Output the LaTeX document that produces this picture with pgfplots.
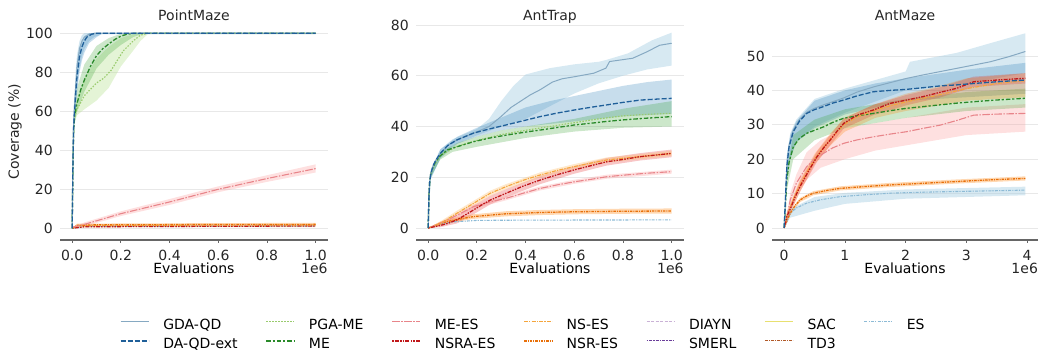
\documentclass[border=0pt]{standalone}
\usepackage{fontspec}
\setmainfont{DejaVu Sans}
\usepackage{pgfplots}
\pgfplotsset{compat=1.18}
\definecolor{c1}{HTML}{A6CEE3}
\definecolor{c2}{HTML}{1F78B4}
\definecolor{c3}{HTML}{B2DF8A}
\definecolor{c4}{HTML}{33A02C}
\definecolor{c5}{HTML}{FB9A99}
\definecolor{c6}{HTML}{E31A1C}
\definecolor{c7}{HTML}{FDBF6F}
\definecolor{c8}{HTML}{FF7F00}
\definecolor{c9}{HTML}{CAB2D6}
\definecolor{c10}{HTML}{6A3D9A}
\definecolor{c11}{HTML}{FFFF99}
\definecolor{c12}{HTML}{B15928}
\definecolor{gdaL}{HTML}{86A9C2}
\definecolor{daL}{HTML}{1F5F99}
\definecolor{pgaL}{HTML}{9ACB6E}
\definecolor{meL}{HTML}{2A8A2A}
\definecolor{meesL}{HTML}{E8858A}
\definecolor{nsraL}{HTML}{C0181A}
\definecolor{nsL}{HTML}{F5A53C}
\definecolor{nsrL}{HTML}{E8700A}
\definecolor{esL}{HTML}{8DBBD6}
\definecolor{sacL}{HTML}{E8E070}
\tikzset{
 lGDA/.style={color=gdaL, line width=1bp, solid},
 lDA/.style={color=daL, line width=1.3bp, dash pattern=on 5bp off 2bp},
 lPGA/.style={color=pgaL, line width=1.2bp, dash pattern=on 1.5bp off 1.5bp},
 lME/.style={color=meL, line width=1.3bp, dash pattern=on 4.5bp off 1.9bp on 2.2bp off 1.9bp},
 lMEES/.style={color=meesL, line width=1.1bp, dash pattern=on 7.5bp off 1.5bp on 1.5bp off 1.5bp},
 lNSRA/.style={color=nsraL, line width=1.3bp, dash pattern=on 1.5bp off 1.2bp on 4bp off 1.2bp on 1.5bp off 1.2bp},
 lNS/.style={color=nsL, line width=1.1bp, dash pattern=on 4bp off 1.2bp on 1.2bp off 1.2bp},
 lNSR/.style={color=nsrL, line width=1.3bp, dash pattern=on 2.5bp off 1bp on 1bp off 1bp},
 lDIAYN/.style={color=c9, line width=1.1bp, dash pattern=on 3bp off 1.5bp},
 lSMERL/.style={color=c10, line width=1.1bp, dash pattern=on 1.5bp off 1bp on 3bp off 1bp},
 lSAC/.style={color=sacL, line width=1.1bp, solid},
 lTD3/.style={color=c12, line width=1.1bp, dash pattern=on 3bp off 1bp on 1bp off 1bp},
 lES/.style={color=esL, line width=1.1bp, dash pattern=on 3bp off 1.2bp on 1.2bp off 1.2bp},
}
\pgfplotsset{
  base/.style={
    scale only axis, width=267.85bp, height=216.5bp,
    axis x line=bottom, axis y line=left,
    axis line style={-},
    x axis line style={black!60, line width=1.1bp},
    y axis line style={draw=none},
    ytick style={draw=none},
    xtick style={black!60, line width=0.8bp},
    tick align=outside, major tick length=3bp,
    ymajorgrids, grid style={black!9, line width=0.9bp},
    font=\fontsize{14bp}{16bp}\selectfont,
    tick label style={text=black!85},
    label style={text=black!85},
    /pgf/number format/assume math mode=true,
    clip mode=individual,
    xticklabel style={inner sep=0pt, yshift=-7bp},
    yticklabel style={inner sep=0pt, xshift=-4bp},
    every axis x label/.style={at={(axis description cs:0.5,0)}, anchor=base, yshift=-34bp},
    every axis title/.style={at={(axis description cs:0.5,1)}, anchor=base, yshift=2.5bp, text=black!85},
    xlabel=Evaluations,
  }
}
\begin{document}
\begin{tikzpicture}
\useasboundingbox (0,0) rectangle (1040bp,351bp);
% ---------------- PointMaze
\begin{axis}[base, at={(60bp,111bp)}, anchor=south west,
  title=PointMaze, xmin=-0.05, xmax=1.05, ymin=-6, ymax=105,
  xtick={0,0.2,0.4,0.6,0.8,1}, xticklabels={0.0,0.2,0.4,0.6,0.8,1.0},
  ytick={0,20,40,60,80,100},
  ylabel={Coverage (\%)},
  every axis y label/.style={at={(axis description cs:-0.168,0.5)}, rotate=90, anchor=center, text=black!85}]
% bands
\addplot[fill=c3, fill opacity=0.35, draw=none] coordinates {(0.01,62)(0.02,66)(0.05,77)(0.1,87)(0.15,93)(0.2,97.5)(0.25,99.5)(0.28,100)(1,100)(1,99.5)(0.31,99.5)(0.28,96)(0.25,91)(0.2,83)(0.15,72)(0.1,65.5)(0.05,61)(0.02,58)(0.01,54)};
\addplot[fill=c4, fill opacity=0.25, draw=none] coordinates {(0.01,64)(0.02,72)(0.05,84)(0.1,93.5)(0.15,97.5)(0.2,99.8)(0.23,100)(1,100)(1,99.8)(0.29,99.8)(0.25,98)(0.2,94)(0.15,89)(0.1,82)(0.05,70)(0.02,60)(0.01,54)};
\addplot[fill=c1, fill opacity=0.5, draw=none] coordinates {(0,0)(0.003,45)(0.006,62)(0.01,70)(0.015,82)(0.02,89)(0.03,96)(0.04,99)(0.05,100)(1,100)(1,99.5)(0.12,99.5)(0.09,98)(0.07,96)(0.05,92)(0.04,88)(0.03,82)(0.02,72)(0.015,65)(0.01,57)(0.006,48)(0.003,25)(0,0)};
\addplot[fill=c2, fill opacity=0.25, draw=none] coordinates {(0,0)(0.003,40)(0.01,66)(0.02,85)(0.03,93)(0.05,98.5)(0.07,100)(1,100)(1,99.5)(0.12,99.5)(0.1,98)(0.07,95)(0.05,90)(0.04,86)(0.03,80)(0.02,70)(0.01,55)(0.003,25)(0,0)};
\addplot[fill=c5, fill opacity=0.3, draw=none] coordinates {(0,0.5)(0.05,3)(0.2,8.7)(0.4,15)(0.6,21.5)(0.8,27.2)(1,32.8)(1,28.6)(0.8,23.8)(0.6,18.5)(0.4,12)(0.2,6.3)(0.05,1)(0,0)};
\addplot[fill=c8, fill opacity=0.3, draw=none] coordinates {(0,0)(0.02,2.4)(0.5,2.6)(1,2.8)(1,0.6)(0.5,0.6)(0.02,0.5)(0,0)};
% lines
\addplot[lES] coordinates {(0,0)(0.05,1)(0.5,1.1)(1,1.2)};
\addplot[lNSRA] coordinates {(0,0)(0.05,0.8)(0.5,1)(1,1.2)};
\addplot[lNS] coordinates {(0,0)(0.02,1.2)(0.1,1.5)(0.5,1.6)(1,1.7)};
\addplot[lNSR] coordinates {(0,0)(0.02,1.5)(0.1,1.8)(0.5,1.9)(1,2)};
\addplot[lMEES] coordinates {(0,0.5)(0.05,2)(0.2,7.5)(0.4,13.5)(0.6,20)(0.8,25.5)(1,30.6)};
\addplot[lPGA] coordinates {(0,0)(0.003,30)(0.006,50)(0.01,57)(0.02,61)(0.05,68)(0.1,74.5)(0.13,77)(0.16,81)(0.185,86)(0.21,91)(0.25,96)(0.28,99)(0.31,100)(1,100)};
\addplot[lME] coordinates {(0,0)(0.003,30)(0.006,50)(0.01,58)(0.02,64)(0.035,71)(0.05,76)(0.075,83)(0.1,88.5)(0.125,92)(0.15,94.5)(0.175,96.8)(0.2,98.5)(0.225,99.5)(0.25,100)(1,100)};
\addplot[lGDA] coordinates {(0,0)(0.003,35)(0.006,55)(0.01,64)(0.015,74)(0.02,83)(0.03,92)(0.04,96)(0.05,98)(0.07,99.5)(0.09,100)(1,100)};
\addplot[lDA] coordinates {(0,0)(0.003,33)(0.006,52)(0.01,60)(0.015,70)(0.02,78)(0.03,88)(0.04,93)(0.05,96)(0.06,98)(0.08,99.5)(0.1,100)(1,100)};
\node[anchor=base east, inner sep=0pt, yshift=-34bp, text=black!85] at (rel axis cs:1,0) {1e6};
\end{axis}
% ---------------- AntTrap
\begin{axis}[base, at={(416bp,111bp)}, anchor=south west,
  title=AntTrap, xmin=-0.05, xmax=1.05, ymin=-4.73, ymax=80.59,
  xtick={0,0.2,0.4,0.6,0.8,1}, xticklabels={0.0,0.2,0.4,0.6,0.8,1.0},
  ytick={0,20,40,60,80}]
% bands
\addplot[fill=c1, fill opacity=0.45, draw=none] coordinates {(0,0)(0.01,23)(0.05,31)(0.1,35)(0.2,39)(0.25,43)(0.3,50)(0.35,56)(0.4,60.5)(0.5,63)(0.6,64.5)(0.7,65.5)(0.73,66.2)(0.82,68.8)(0.92,74)(1,77)(1,64)(0.9,62.5)(0.8,60)(0.7,57)(0.6,53)(0.5,48)(0.4,43)(0.3,40)(0.2,36.5)(0.1,32.5)(0.05,27.5)(0.01,19)(0,0)};
\addplot[fill=c2, fill opacity=0.25, draw=none] coordinates {(0,0)(0.01,22.5)(0.05,31)(0.12,36)(0.2,39.5)(0.3,43.5)(0.4,47.5)(0.5,50)(0.6,52)(0.7,54)(0.8,56)(0.9,57.5)(1,58.5)(1,45)(0.8,44)(0.6,42)(0.4,40)(0.3,38.5)(0.2,36)(0.12,33.2)(0.05,27.5)(0.01,19.5)(0,0)};
\addplot[fill=c4, fill opacity=0.25, draw=none] coordinates {(0,0)(0.01,22)(0.05,30)(0.12,33.5)(0.2,36)(0.3,38.5)(0.4,40)(0.5,41.5)(0.6,43)(0.7,45)(0.8,47)(0.9,48.5)(1,50)(1,40)(0.8,39.5)(0.6,38)(0.4,35.5)(0.2,32)(0.1,30)(0.05,27)(0.01,20)(0,0)};
\addplot[fill=c6, fill opacity=0.25, draw=none] coordinates {(0,0)(0.05,1.8)(0.118,4.6)(0.186,8.8)(0.255,12.7)(0.32,15.3)(0.46,20.5)(0.6,24.4)(0.733,27.6)(0.87,29.5)(1,30.9)(1,27.9)(0.87,26.6)(0.733,24.6)(0.6,21.4)(0.46,17.3)(0.32,12.1)(0.255,9.3)(0.186,5.4)(0.118,1.8)(0.05,0.3)(0,0)};
\addplot[fill=c7, fill opacity=0.35, draw=none] coordinates {(0,0)(0.05,2.6)(0.118,6.8)(0.186,10.7)(0.255,14.7)(0.32,17.3)(0.46,21.9)(0.6,25.2)(0.733,27.8)(0.87,29.1)(1,30.4)(1,28.4)(0.87,27.1)(0.733,25.8)(0.6,23.2)(0.46,19.9)(0.32,15.3)(0.255,12.7)(0.186,8.7)(0.118,4.8)(0.05,1)(0,0)};
\addplot[fill=c5, fill opacity=0.3, draw=none] coordinates {(0,0)(0.05,2.4)(0.186,9.2)(0.32,12.5)(0.46,16.4)(0.6,19)(0.733,21)(1,23)(1,21.4)(0.733,19.4)(0.6,17.4)(0.46,14.8)(0.32,10.9)(0.186,7.6)(0.05,1.2)(0,0)};
\addplot[fill=c8, fill opacity=0.3, draw=none] coordinates {(0,0)(0.05,2.5)(0.1,3.8)(0.186,5.4)(0.32,6.6)(0.46,7.1)(0.6,7.4)(0.8,7.6)(1,7.7)(1,5.7)(0.8,5.6)(0.6,5.4)(0.46,5.1)(0.32,4.6)(0.186,3.6)(0.1,2.2)(0.05,1.1)(0,0)};
% lines
\addplot[lES] coordinates {(0,0)(0.05,1.5)(0.1,2.4)(0.2,3)(0.4,3.1)(1,3.2)};
\addplot[lNSR] coordinates {(0,0)(0.05,1.8)(0.1,3)(0.186,4.5)(0.32,5.6)(0.46,6.1)(0.6,6.4)(0.8,6.6)(1,6.7)};
\addplot[lMEES] coordinates {(0,0)(0.05,1.8)(0.118,5)(0.186,8.4)(0.25,10.2)(0.32,11.7)(0.39,13.7)(0.46,15.6)(0.53,17)(0.6,18.2)(0.67,19.2)(0.733,20.2)(0.8,20.8)(0.9,21.6)(1,22.2)};
\addplot[lNS] coordinates {(0,0)(0.025,0.6)(0.05,1.8)(0.118,5.8)(0.186,9.7)(0.255,13.7)(0.32,16.3)(0.39,18.8)(0.46,20.9)(0.53,22.7)(0.6,24.2)(0.67,25.6)(0.733,26.8)(0.8,27.5)(0.87,28.1)(0.94,28.8)(1,29.4)};
\addplot[lNSRA] coordinates {(0,0)(0.05,1)(0.08,1.8)(0.118,3.2)(0.15,5)(0.186,7.1)(0.22,9.1)(0.255,11)(0.32,13.7)(0.39,16.5)(0.46,18.9)(0.53,21)(0.6,22.9)(0.67,24.6)(0.733,26.1)(0.8,27)(0.87,28.1)(0.94,28.8)(1,29.4)};
\addplot[lPGA] coordinates {(0,0)(0.003,12)(0.006,18)(0.01,21)(0.02,24)(0.05,28.5)(0.118,32.2)(0.2,34.5)(0.3,36.8)(0.4,38.5)(0.5,40)(0.6,41.5)(0.7,43)(0.8,44.2)(0.9,44.8)(1,45.2)};
\addplot[lME] coordinates {(0,0)(0.003,12)(0.006,18)(0.01,21)(0.02,24)(0.03,26)(0.05,28.5)(0.08,30.8)(0.118,32)(0.186,34)(0.25,35.4)(0.32,36.6)(0.4,37.8)(0.46,38.6)(0.53,39.6)(0.6,40.6)(0.67,41.3)(0.733,42)(0.8,42.6)(0.9,43.3)(1,43.9)};
\addplot[lGDA] coordinates {(0,0)(0.003,12)(0.006,18)(0.01,21)(0.02,24.5)(0.03,26.5)(0.05,29.4)(0.08,32.5)(0.12,34.8)(0.19,37.5)(0.25,40)(0.3,44)(0.34,47.5)(0.38,50)(0.42,52.5)(0.46,54.5)(0.51,57.5)(0.55,58.8)(0.6,59.6)(0.68,61)(0.73,63)(0.745,65.6)(0.84,66.9)(0.9,69.5)(0.95,72)(1,72.8)};
\addplot[lDA] coordinates {(0,0)(0.003,12)(0.006,18)(0.01,21)(0.02,24.5)(0.03,26.5)(0.05,29.4)(0.08,32.5)(0.118,34.7)(0.186,37.4)(0.25,39)(0.32,40.6)(0.4,42.5)(0.46,43.9)(0.53,45.3)(0.6,46.5)(0.67,47.6)(0.733,48.5)(0.8,49.5)(0.87,50.4)(0.94,50.8)(1,51.1)};
\node[anchor=base east, inner sep=0pt, yshift=-34bp, text=black!85] at (rel axis cs:1,0) {1e6};
\end{axis}
% ---------------- AntMaze
\begin{axis}[base, at={(772bp,111bp)}, anchor=south west, width=266.1bp,
  title=AntMaze, xmin=-0.2, xmax=4.18, ymin=-3.5, ymax=59.44,
  xtick={0,1,2,3,4}, xticklabels={0,1,2,3,4},
  ytick={0,10,20,30,40,50}]
% bands
\addplot[fill=c1, fill opacity=0.45, draw=none] coordinates {(0,0)(0.02,10)(0.044,21)(0.1,27.5)(0.2,31.5)(0.5,37.5)(1,40.5)(1.5,43)(2,45.5)(2.07,48.3)(2.84,50.9)(3.39,53.7)(3.97,56.6)(3.97,45)(3,42)(2,40)(1,33.5)(0.5,29.5)(0.2,25)(0.1,20)(0.044,14)(0.02,6)(0,0)};
\addplot[fill=c2, fill opacity=0.25, draw=none] coordinates {(0,0)(0.02,10)(0.044,21)(0.1,27)(0.2,31)(0.5,37)(1,40)(1.5,42)(2,43.5)(3,46)(3.97,48)(3.97,39)(3,38)(2,37)(1,33)(0.5,29)(0.2,25)(0.1,20)(0.044,14)(0.02,6)(0,0)};
\addplot[fill=c5, fill opacity=0.3, draw=none] coordinates {(0,0)(0.044,4)(0.1,10)(0.2,15.5)(0.37,22)(0.6,25.5)(1,29)(1.5,30.5)(2,32)(2.5,33.5)(3,35)(3.97,36)(3.97,28)(3,27)(2.5,25.5)(2,24)(1.5,22.5)(1,20)(0.6,17.5)(0.37,14)(0.2,10)(0.1,6)(0.044,2)(0,0)};
\addplot[fill=c4, fill opacity=0.25, draw=none] coordinates {(0,0)(0.044,17)(0.15,27)(0.5,31.5)(1,34.5)(2,37.5)(3,39.5)(3.97,40.5)(3.97,35)(3,34)(2,32)(1,29)(0.5,25.5)(0.15,20)(0.044,11)(0,0)};
\addplot[fill=c8, fill opacity=0.25, draw=none] coordinates {(0,0)(0.044,4.5)(0.26,14)(0.5,21.5)(0.76,27.5)(1,32)(1.5,36)(2,39)(2.5,41)(3,43.5)(3.97,45)(3.97,38)(3,37)(2.5,35.5)(2,34)(1.5,32)(1,28)(0.76,24)(0.5,18.5)(0.26,10.5)(0.044,2.5)(0,0)};
\addplot[fill=c6, fill opacity=0.22, draw=none] coordinates {(0,0)(0.044,4.3)(0.26,13.5)(0.54,22.2)(0.98,31.9)(1.47,35.8)(2.02,38.7)(2.56,40.9)(3.12,44)(3.97,45)(3.97,42)(3.12,41)(2.56,37.9)(2.02,35.7)(1.47,32.8)(0.98,28.9)(0.54,19.2)(0.26,10.5)(0.044,2.3)(0,0)};
\addplot[fill=c8, fill opacity=0.3, draw=none] coordinates {(0,0)(0.044,2.6)(0.1,4.9)(0.26,8.7)(0.48,10.7)(0.92,12.1)(1.74,13.1)(2.84,14.1)(3.97,15)(3.97,13.8)(2.84,12.9)(1.74,11.9)(0.92,10.9)(0.48,9.5)(0.26,7.5)(0.1,3.7)(0.044,1.4)(0,0)};
\addplot[fill=c1, fill opacity=0.45, draw=none] coordinates {(0,0)(0.1,5.5)(0.5,9)(1,10.2)(2,11.2)(3.97,12)(3.97,9.5)(2,8.5)(1,7)(0.5,5)(0.1,3)(0,0)};
% lines
\addplot[lES] coordinates {(0,0)(0.044,2)(0.1,4.3)(0.2,5.8)(0.37,7.2)(0.6,8.2)(0.92,9.1)(1.3,9.6)(1.74,10.1)(2.3,10.4)(2.84,10.6)(3.4,10.8)(3.97,11)};
\addplot[lNSR] coordinates {(0,0)(0.044,2)(0.1,4.3)(0.18,6.5)(0.26,8.1)(0.37,9.3)(0.48,10.1)(0.7,10.9)(0.92,11.5)(1.3,12)(1.74,12.5)(2.3,13)(2.84,13.5)(3.4,14)(3.97,14.4)};
\addplot[lMEES] coordinates {(0,0)(0.044,3)(0.1,8.1)(0.2,13)(0.37,17.8)(0.5,20)(0.65,21.7)(0.8,23.3)(0.98,24.6)(1.2,25.6)(1.47,26.5)(1.75,27.3)(2.02,28)(2.3,29)(2.57,29.9)(2.85,31.3)(3.12,32.8)(3.5,33.1)(3.97,33.3)};
\addplot[lME] coordinates {(0,0)(0.02,6)(0.044,14)(0.08,19)(0.15,23.6)(0.25,26)(0.37,27.5)(0.5,28.4)(0.65,29.4)(0.8,30.7)(0.98,31.9)(1.2,32.6)(1.47,33.3)(1.75,34.1)(2.02,34.8)(2.3,35.3)(2.57,35.8)(2.85,36.3)(3.12,36.7)(3.5,37.2)(3.97,37.7)};
\addplot[lNS] coordinates {(0,0)(0.044,3.5)(0.1,6)(0.18,9.5)(0.26,12.5)(0.4,17)(0.54,21)(0.65,23.5)(0.76,25.8)(0.98,30)(1.2,32.3)(1.47,34)(1.74,35.5)(2.02,36.7)(2.5,38.5)(3,40.5)(3.5,42)(3.97,42.8)};
\addplot[lNSRA] coordinates {(0,0)(0.044,3.3)(0.1,5.5)(0.18,9)(0.26,12)(0.4,16.5)(0.54,20.7)(0.65,23.3)(0.76,25.6)(0.87,28.1)(0.98,30.4)(1.2,32.8)(1.47,34.3)(1.74,36.2)(2.02,37.2)(2.29,38.2)(2.56,39.4)(2.84,40.6)(3.12,42.5)(3.5,43)(3.97,43.5)};
\addplot[lGDA] coordinates {(0,0)(0.02,8)(0.044,18)(0.08,24)(0.15,28.5)(0.25,31.5)(0.37,33.6)(0.5,34.8)(0.65,35.8)(0.98,37.8)(1.2,39.5)(1.47,41)(2.02,43.5)(2.29,44.5)(2.84,46.4)(3.39,48.3)(3.7,49.8)(3.97,51.3)};
\addplot[lDA] coordinates {(0,0)(0.02,8)(0.044,17.8)(0.08,23.5)(0.15,28)(0.25,31)(0.37,33.3)(0.5,34.4)(0.65,35.3)(0.8,36.3)(0.98,37.2)(1.2,38.4)(1.47,39.6)(1.75,40)(2.02,40.3)(2.3,40.8)(2.57,41.3)(2.85,41.6)(3.12,42)(3.5,42.5)(3.97,43)};
\node[anchor=base east, inner sep=0pt, yshift=-34bp, text=black!85] at (rel axis cs:1,0) {1e6};
\end{axis}
% ---------------- Legend
\begin{axis}[at={(0bp,0bp)}, anchor=south west, scale only axis, width=1040bp, height=351bp,
  hide axis, xmin=0, xmax=1, ymin=0, ymax=1,
  legend columns=7, legend cell align=left,
  legend image code/.code={\draw[#1] (0bp,0bp) -- (28bp,0bp);},
  legend style={at={(0.11538,0.0923)}, anchor=north west, draw=none, fill=none,
    inner sep=0pt, outer sep=0pt, row sep=5.5bp,
    font=\fontsize{14bp}{16bp}\selectfont,
    nodes={inner sep=0pt, text height=10.5bp, text depth=3bp, yshift=-3.5bp},
    /tikz/every odd column/.style={column sep=14bp},
    /tikz/every even column/.style={column sep=28bp}}]
\addlegendimage{lGDA}\addlegendentry{GDA-QD}
\addlegendimage{lPGA}\addlegendentry{PGA-ME}
\addlegendimage{lMEES}\addlegendentry{ME-ES}
\addlegendimage{lNS}\addlegendentry{NS-ES}
\addlegendimage{lDIAYN}\addlegendentry{DIAYN}
\addlegendimage{lSAC}\addlegendentry{SAC}
\addlegendimage{lES}\addlegendentry{ES}
\addlegendimage{lDA}\addlegendentry{DA-QD-ext}
\addlegendimage{lME}\addlegendentry{ME}
\addlegendimage{lNSRA}\addlegendentry{NSRA-ES}
\addlegendimage{lNSR}\addlegendentry{NSR-ES}
\addlegendimage{lSMERL}\addlegendentry{SMERL}
\addlegendimage{lTD3}\addlegendentry{TD3}
\end{axis}
\end{tikzpicture}
\end{document}
